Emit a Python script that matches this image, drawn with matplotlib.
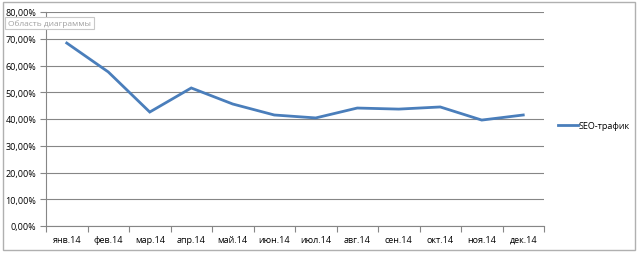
import matplotlib
matplotlib.use("Agg")
import matplotlib.pyplot as plt
from matplotlib.patches import Rectangle
from matplotlib.ticker import FuncFormatter, FixedLocator
import numpy as np

months = ["янв.14", "фев.14", "мар.14", "апр.14", "май.14", "июн.14",
          "июл.14", "авг.14", "сен.14", "окт.14", "ноя.14", "дек.14"]
seo = [68.4, 57.6, 42.6, 51.6, 45.6, 41.5, 40.4, 44.1, 43.7, 44.5, 39.6, 41.5]
yticks = [0, 10, 20, 30, 40, 50, 60, 70, 80]
series_name = "SEO-трафик"

plt.rcParams['font.family'] = ['Open Sans', 'DejaVu Sans']
fig = plt.figure(figsize=(6.44, 2.55), dpi=100)
fig.patch.set_facecolor("white")

# outer chart border
fig.patches.append(Rectangle((3/644, 4/255), 632/644, 248/255, transform=fig.transFigure,
                             fill=False, edgecolor="#b0b0b0", linewidth=1.0))

ax = fig.add_axes([46/644, 28/255, 498/644, 214/255])
x = np.arange(len(months))
ax.plot(x, seo, color="#4A7EBB", linewidth=2.0, label=series_name, solid_joinstyle="miter")
ax.set_xlim(-0.5, len(months) - 0.5)
ax.set_ylim(0, 80)
ax.yaxis.set_major_locator(FixedLocator(yticks))
ax.yaxis.set_major_formatter(FuncFormatter(lambda v, p: f"{v:.2f}%".replace(".", ",")))
ax.set_xticks(x)
ax.set_xticklabels(months, va="baseline")
ax.xaxis.set_minor_locator(FixedLocator(np.arange(-0.5, len(months), 1.0)))
ax.tick_params(axis="x", which="major", length=0, labelsize=6.5, pad=11.5, colors="#000000")
ax.tick_params(axis="x", which="minor", length=4, color="#868686", width=0.8)
ax.tick_params(axis="y", length=4, color="#868686", width=0.8, labelsize=6.5, pad=3)
ax.grid(axis="y", color="#868686", linewidth=0.8)
ax.set_axisbelow(True)
for s in ["top", "right"]:
    ax.spines[s].set_visible(False)
for s in ["left", "bottom"]:
    ax.spines[s].set_color("#868686")
    ax.spines[s].set_linewidth(0.8)

leg = fig.legend(loc="center left", bbox_to_anchor=(550/644, 1 - 127/255), frameon=False,
                 fontsize=6.5, handlelength=2.2, handletextpad=0.1)

# tooltip box
fig.text(8/644, 1 - 24/255, "Область диаграммы", fontsize=6, color="#a0a0a0",
         va="center", ha="left",
         bbox=dict(boxstyle="square,pad=0.3", facecolor="white", edgecolor="#c8c8c8", linewidth=0.8))

fig.savefig("out.png", dpi=100, facecolor="white")
